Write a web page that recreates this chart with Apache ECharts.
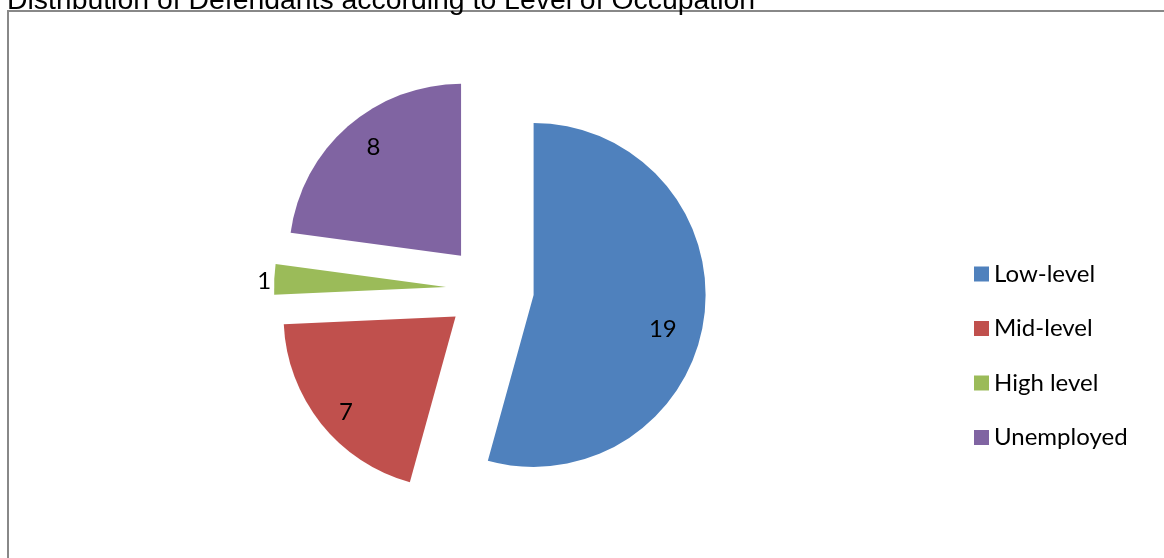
<!DOCTYPE html>
<html>
<head>
<meta charset="utf-8">
<script src="https://cdn.jsdelivr.net/npm/echarts@6/dist/echarts.min.js"></script>
<style>
  html, body { margin: 0; padding: 0; background: #ffffff; }
  #chart { width: 1164px; height: 558px; }
</style>
</head>
<body>
<div id="chart"></div>
<script>
// Occupation levels and number of defendants in each
const categories = ['Low-level', 'Mid-level', 'High level', 'Unemployed'];
const counts = [19, 7, 1, 8];
const colors = ['#4F81BD', '#C0504D', '#9BBB59', '#8064A2'];
// nudges of each value label away from the default inside position
const labelShift = [[41, 22], [-40, 40], [-93, -2], [-29, -42]];

const chart = echarts.init(document.getElementById('chart'), null, { renderer: 'canvas' });

const pieData = categories.map((name, i) => ({
  name: name,
  value: counts[i],
  selected: true,
  itemStyle: { color: colors[i] }
}));

chart.setOption({
  animation: false,
  backgroundColor: '#ffffff',
  title: {
    text: 'Distribution of Defendants according to Level of Occupation',
    left: 7,
    top: -13,
    padding: 0,
    textStyle: {
      fontFamily: 'Liberation Sans',
      fontSize: 28.4,
      fontWeight: 'normal',
      color: '#000000'
    }
  },
  graphic: [{
    type: 'rect',
    shape: { x: 8, y: 11, width: 1300, height: 700 },
    style: { fill: 'none', stroke: '#888888', lineWidth: 2 },
    silent: true,
    z: -1
  }],
  legend: {
    orient: 'vertical',
    left: 969,
    top: 257,
    itemWidth: 15,
    itemHeight: 15,
    itemGap: 30.5,
    icon: 'rect',
    selectedMode: false,
    textStyle: {
      fontFamily: 'Lato',
      fontSize: 24,
      lineHeight: 24,
      color: '#000000'
    },
    data: categories
  },
  series: [{
    type: 'pie',
    center: [490, 289],
    radius: [0, 172],
    startAngle: 90,
    clockwise: true,
    selectedMode: 'multiple',
    selectedOffset: 44,
    avoidLabelOverlap: false,
    emphasis: { disabled: true },
    label: {
      show: true,
      position: 'inside',
      formatter: '{c}',
      fontFamily: 'Lato',
      fontSize: 24,
      color: '#000000'
    },
    labelLine: { show: false },
    labelLayout: function (params) {
      const s = labelShift[params.dataIndex];
      return { dx: s[0], dy: s[1] };
    },
    data: pieData
  }]
});
</script>
</body>
</html>
